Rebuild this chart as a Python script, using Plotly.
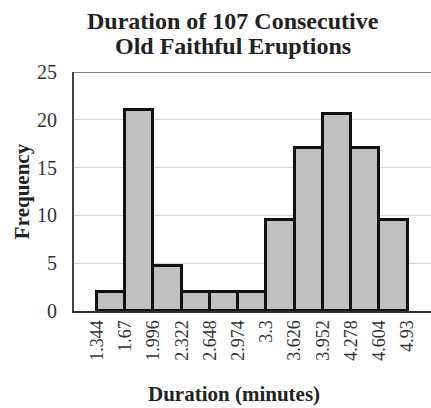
import plotly.graph_objects as go

# Data
bin_edges = [1.344, 1.67, 1.996, 2.322, 2.648, 2.974, 3.3, 3.626, 3.952, 4.278, 4.604, 4.93]
edge_labels = ["1.344", "1.67", "1.996", "2.322", "2.648", "2.974", "3.3",
               "3.626", "3.952", "4.278", "4.604", "4.93"]
frequencies = [2, 21, 4.7, 2, 2, 2, 9.5, 17, 20.6, 17, 9.5]

centers = [(bin_edges[i] + bin_edges[i + 1]) / 2 for i in range(len(frequencies))]
widths = [bin_edges[i + 1] - bin_edges[i] for i in range(len(frequencies))]

SERIF = "Liberation Serif"

fig = go.Figure()
fig.add_trace(go.Bar(
    x=centers, y=frequencies, width=widths,
    marker=dict(color="#c0c0c0", line=dict(color="#111111", width=3)),
    hoverinfo="x+y",
))

L, R, T, B = 74, 0, 72, 97
W, H = 431, 408
PW, PH = W - L - R, H - T - B

def px_x(x):
    return (x - L) / PW

def px_y(y):
    return (H - B - y) / PH

fig.update_layout(
    width=W, height=H,
    margin=dict(l=L, r=R, t=T, b=B, autoexpand=False),
    paper_bgcolor="white", plot_bgcolor="white",
    showlegend=False,
    bargap=0,
    font=dict(family=SERIF, color="#333333"),
)

fig.update_xaxes(
    range=[1.079, 5.20], automargin=False,
    tickmode="array", tickvals=bin_edges, ticktext=edge_labels,
    tickangle=-90, tickfont=dict(family=SERIF, size=18, color="#333333"),
    showgrid=False, zeroline=False,
    showline=True, linecolor="#333333", linewidth=2,
    ticks="", fixedrange=True,
)
fig.update_yaxes(
    range=[0, 25], tickvals=[0, 5, 10, 15, 20, 25], automargin=False,
    tickfont=dict(family=SERIF, size=20, color="#333333"),
    showgrid=True, gridcolor="#d4d4d4", gridwidth=1,
    zeroline=False,
    showline=True, linecolor="#444444", linewidth=2,
    ticks="", ticklabelstandoff=11,
    title=dict(text="<b>Frequency</b>", font=dict(family=SERIF, size=21, color="#222222"), standoff=2),
)

# top border line at 25
fig.add_shape(type="line", xref="paper", yref="y", x0=0, x1=1, y0=25, y1=25,
              line=dict(color="#555555", width=1.5))

# title lines
for txt, yc in [("<b>Duration of 107 Consecutive</b>", 21), ("<b>Old Faithful Eruptions</b>", 46)]:
    fig.add_annotation(
        text=txt, xref="paper", yref="paper",
        x=px_x(233), y=px_y(yc), xanchor="center", yanchor="middle",
        showarrow=False, font=dict(family=SERIF, size=24, color="#222222"),
    )

# x-axis title
fig.add_annotation(
    text="<b>Duration (minutes)</b>", xref="paper", yref="paper",
    x=px_x(234), y=px_y(394),
    xanchor="center", yanchor="middle", showarrow=False,
    font=dict(family=SERIF, size=21, color="#222222"),
)

fig.write_html("out.html", config={"displayModeBar": False},
               post_script="document.body.style.margin='0';")
